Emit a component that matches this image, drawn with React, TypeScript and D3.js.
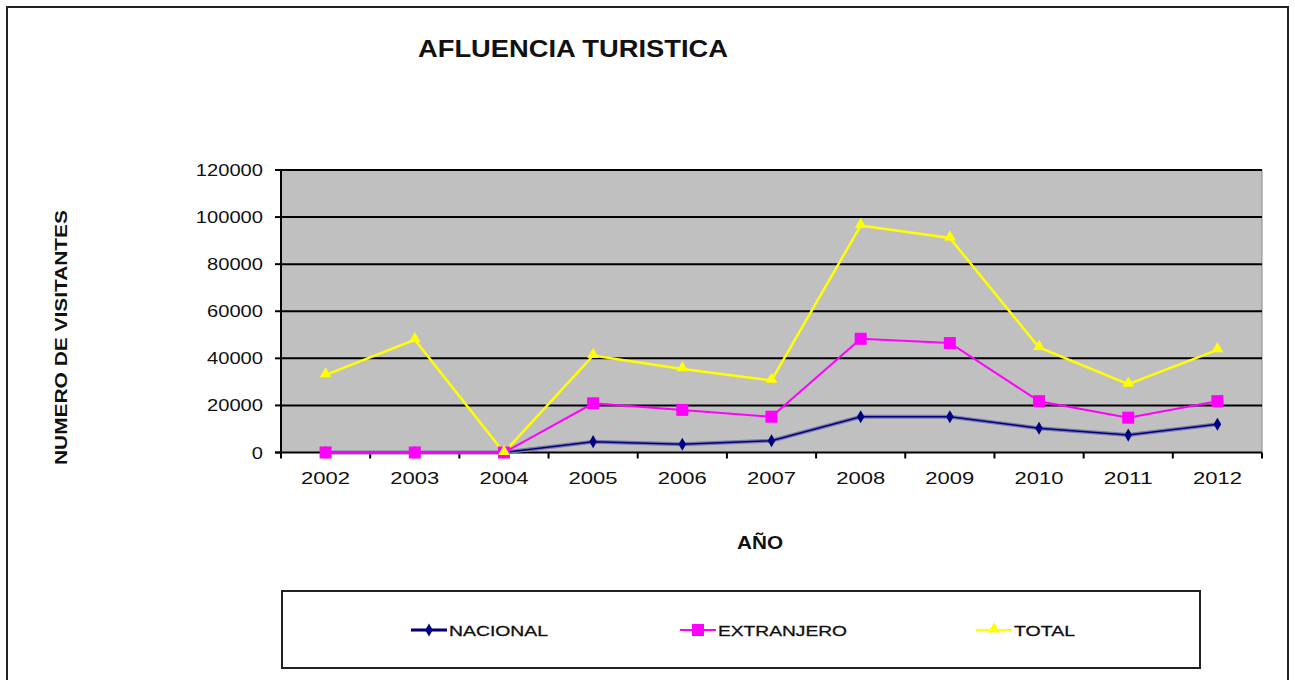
import React from 'react';
import * as d3 from 'd3';

const years = ['2002', '2003', '2004', '2005', '2006', '2007', '2008', '2009', '2010', '2011', '2012'];
const nacional = [0, 0, 0, 4600, 3500, 5000, 15200, 15200, 10300, 7400, 12000];
const extranjero = [0, 0, 0, 20900, 18100, 15200, 48300, 46500, 21800, 14800, 21800];
const total = [33000, 47900, 0, 41200, 35500, 30600, 96400, 91100, 44600, 29000, 43600];
const yTicks = [0, 20000, 40000, 60000, 80000, 100000, 120000];

const WIDTH = 1295;
const HEIGHT = 680;
const FONT = '"Liberation Sans", Arial, sans-serif';

const plot = { left: 281, right: 1262, top: 170, bottom: 452.5 };

export default function App() {
  const xScale = d3.scaleBand().domain(years).range([plot.left, plot.right]).padding(0);
  const yScale = d3.scaleLinear().domain([0, 120000]).range([plot.bottom, plot.top]);
  const cx = (y: string) => (xScale(y) || 0) + xScale.bandwidth() / 2;

  const line = d3
    .line<number>()
    .x((_, i) => cx(years[i]))
    .y(d => yScale(d));

  const diamond = d3.symbol().type(d3.symbolDiamond).size(50);
  const triangle = d3.symbol().type(d3.symbolTriangle).size(60);

  // leyenda
  const legend = [
    { name: 'NACIONAL', x: 411, w: 99, color: '#000080', kind: 'diamond' },
    { name: 'EXTRANJERO', x: 680, w: 129, color: '#ff00ff', kind: 'square' },
    { name: 'TOTAL', x: 976, w: 61, color: '#ffff00', kind: 'triangle' }
  ];

  const marker = (kind: string, color: string, x: number, y: number, k: number) => {
    if (kind === 'diamond') {
      return <path key={k} d={diamond() || ''} transform={`translate(${x},${y})`} fill={color} />;
    }
    if (kind === 'square') {
      return <rect key={k} x={x - 6} y={y - 6} width={12} height={12} fill={color} />;
    }
    return <path key={k} d={triangle() || ''} transform={`translate(${x},${y - 1})`} fill={color} />;
  };

  return (
    <div style={{ position: 'fixed', left: 0, top: 0, width: WIDTH, height: HEIGHT, background: '#fff' }}>
      <svg width={WIDTH} height={HEIGHT} style={{ display: 'block' }}>
        {/* marco exterior */}
        <path d={`M7,${HEIGHT + 5} V7 H1288 V${HEIGHT + 5}`} fill="none" stroke="#222" strokeWidth={2} />

        <text
          x={418}
          y={57}
          fontFamily={FONT}
          fontWeight="bold"
          fontSize={23}
          fill="#111"
          textLength={310}
          lengthAdjust="spacingAndGlyphs"
        >
          AFLUENCIA TURISTICA
        </text>

        {/* area de trazado */}
        <rect
          x={plot.left}
          y={plot.top}
          width={plot.right - plot.left}
          height={plot.bottom - plot.top}
          fill="#c0c0c0"
          stroke="#888"
          strokeWidth={1}
        />
        {yTicks.slice(1).map(t => (
          <line key={t} x1={plot.left} x2={plot.right} y1={yScale(t)} y2={yScale(t)} stroke="#000" strokeWidth={2} />
        ))}

        {/* eje y */}
        <line x1={plot.left} x2={plot.left} y1={plot.top} y2={plot.bottom} stroke="#000" strokeWidth={2} />
        {yTicks.map(t => (
          <g key={t}>
            <line x1={plot.left - 6} x2={plot.left} y1={yScale(t)} y2={yScale(t)} stroke="#000" strokeWidth={2} />
            <text
              x={263}
              y={yScale(t) + 6}
              textAnchor="end"
              fontFamily={FONT}
              fontSize={17}
              fill="#111"
              textLength={String(t).length * 11.2}
              lengthAdjust="spacingAndGlyphs"
            >
              {t}
            </text>
          </g>
        ))}

        {/* eje x */}
        <line x1={plot.left - 6} x2={plot.right} y1={plot.bottom} y2={plot.bottom} stroke="#000" strokeWidth={2} />
        {years.map(y => (
          <g key={y}>
            <line x1={xScale(y) || 0} x2={xScale(y) || 0} y1={plot.bottom} y2={plot.bottom + 6} stroke="#000" strokeWidth={2} />
            <text
              x={cx(y) - 24.5}
              y={484}
              fontFamily={FONT}
              fontSize={17}
              fill="#111"
              textLength={49}
              lengthAdjust="spacingAndGlyphs"
            >
              {y}
            </text>
          </g>
        ))}
        <line x1={plot.right} x2={plot.right} y1={plot.bottom} y2={plot.bottom + 6} stroke="#000" strokeWidth={2} />

        <text
          x={737}
          y={549}
          fontFamily={FONT}
          fontWeight="bold"
          fontSize={18}
          fill="#111"
          textLength={46}
          lengthAdjust="spacingAndGlyphs"
        >
          AÑO
        </text>
        <text
          transform={`translate(67,465) rotate(-90)`}
          fontFamily={FONT}
          fontWeight="bold"
          fontSize={16}
          fill="#111"
          textLength={255}
          lengthAdjust="spacingAndGlyphs"
        >
          NUMERO DE VISITANTES
        </text>

        {/* series */}
        <path d={line(nacional) || ''} fill="none" stroke="#7a7aa8" strokeWidth={4} />
        <path d={line(nacional) || ''} fill="none" stroke="#000080" strokeWidth={1.5} />
        <path d={line(extranjero) || ''} fill="none" stroke="#ff00ff" strokeWidth={2} />
        <path d={line(total) || ''} fill="none" stroke="#ffff00" strokeWidth={2.5} />
        {nacional.map((v, i) => marker('diamond', '#000080', cx(years[i]), yScale(v), i))}
        {extranjero.map((v, i) => marker('square', '#ff00ff', cx(years[i]), yScale(v), i))}
        {total.map((v, i) => marker('triangle', '#ffff00', cx(years[i]), yScale(v), i))}

        {/* leyenda */}
        <rect x={282} y={591} width={918} height={77} fill="#fff" stroke="#222" strokeWidth={2} />
        {legend.map((l, i) => (
          <g key={l.name}>
            {l.kind === 'diamond' && (
              <line x1={l.x} x2={l.x + 36} y1={630} y2={630} stroke="#7a7aa8" strokeWidth={4} />
            )}
            <line x1={l.x} x2={l.x + 36} y1={630} y2={630} stroke={l.color} strokeWidth={2} />
            {marker(l.kind, l.color, l.x + 18, 630, i)}
            <text
              x={l.x + 38}
              y={636}
              fontFamily={FONT}
              fontSize={15}
              fill="#111"
              stroke="#111"
              strokeWidth={0.3}
              textLength={l.w}
              lengthAdjust="spacingAndGlyphs"
            >
              {l.name}
            </text>
          </g>
        ))}
      </svg>
    </div>
  );
}
